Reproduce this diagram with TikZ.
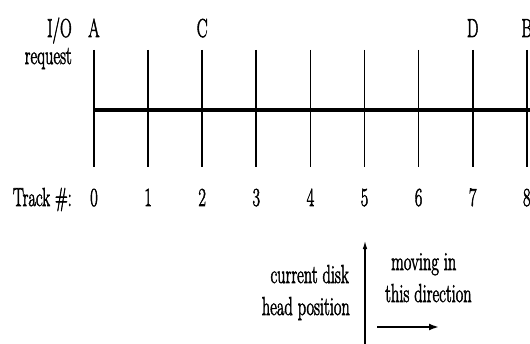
\documentclass[tikz,border=0pt]{standalone}
\usepackage{fontspec}
\newfontfamily\labfont{Latin Modern Roman}[FakeBold=2.5]
\usetikzlibrary{arrows.meta}
\newcommand\sq[1]{\scalebox{0.63}[1]{#1}}
\begin{document}
\begin{tikzpicture}[x=1pt,y=1pt,
  lab/.style={font=\labfont\fontsize{26}{30}\selectfont, inner sep=0pt},
  tickline/.style={line width=1.7pt},
  axisline/.style={line width=3.4pt},
  uparr/.style={line width=1.6pt,-{Latex[length=9pt,width=4.5pt]}},
  rtarr/.style={line width=2.6pt,-{Latex[length=10pt,width=7pt]}}]
\useasboundingbox (0,0) rectangle (530,343);
\foreach \i in {0,...,8}{
  \coordinate (t\i) at ({94+54.1*\i},293);
  \coordinate (b\i) at ({94+54.1*\i},176);
  \draw[tickline] (t\i) -- (b\i);
  \node[lab, anchor=base] (n\i) at ({94+54.1*\i},137) {\sq{\i}};
}
\coordinate (h0) at (93.2,233);
\coordinate (h8) at (534,233);
\draw[axisline] (h0) -- (h8);
% request letters
\node[lab, anchor=base] (lA) at (94,306) {\sq{A}};
\node[lab, anchor=base] (lC) at (202.2,306) {\sq{C}};
\node[lab, anchor=base] (lD) at (472.7,306) {\sq{D}};
\node[lab, anchor=base] (lB) at (526.8,306) {\sq{B}};
\node[lab, anchor=base east] (io) at (72,306) {\sq{I/O}};
\node[lab, anchor=base east] (req) at (72,279) {\sq{request}};
\node[lab, anchor=base east] (track) at (72,137) {\sq{Track \#:}};
% head
\coordinate (hb) at (365,-2);
\coordinate (ht) at (365,103);
\draw[uparr] (hb) -- (ht);
\node[lab, anchor=base east] (cd) at (349,60) {\sq{current disk}};
\node[lab, anchor=base east] (hp) at (350,28) {\sq{head position}};
\node[lab, anchor=base west] (mv) at (391,73) {\sq{moving in}};
\node[lab, anchor=base west] (td) at (385,41) {\sq{this direction}};
\coordinate (ds) at (377,16);
\coordinate (de) at (439,16);
\draw[rtarr] (ds) -- (de);
\end{tikzpicture}
\end{document}
